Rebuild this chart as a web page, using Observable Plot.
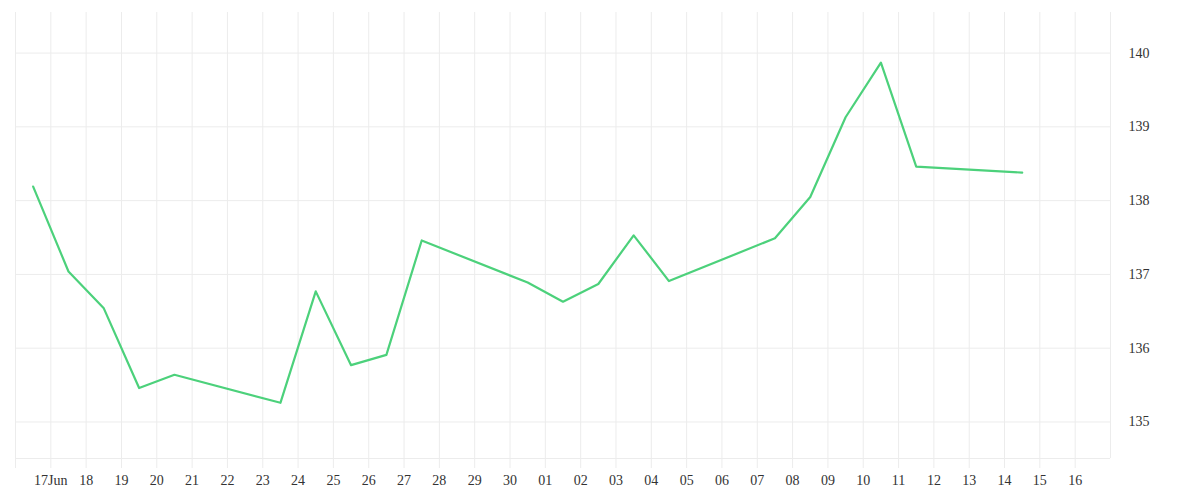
<!DOCTYPE html>
<html>
<head>
<meta charset="utf-8">
<script src="https://cdn.jsdelivr.net/npm/d3@7"></script>
<script src="https://cdn.jsdelivr.net/npm/@observablehq/plot@0.6"></script>
<style>
  html, body { margin: 0; padding: 0; background: #fff; }
  #chart svg { display: block; }
</style>
</head>
<body>
<div id="chart"></div>
<script>
// Trading days (close values)
const dates = ["2025-06-16","2025-06-17","2025-06-18","2025-06-19","2025-06-20",
  "2025-06-23","2025-06-24","2025-06-25","2025-06-26","2025-06-27",
  "2025-06-30","2025-07-01","2025-07-02","2025-07-03","2025-07-04",
  "2025-07-07","2025-07-08","2025-07-09","2025-07-10","2025-07-11",
  "2025-07-14"];
const values = [138.19, 137.04, 136.54, 135.46, 135.64,
  135.26, 136.77, 135.77, 135.91, 137.46,
  136.89, 136.63, 136.87, 137.53, 136.91,
  137.49, 138.05, 139.13, 139.87, 138.46,
  138.38];

// X ticks (day boundaries) and their labels
const tickDates = ["2025-06-16","2025-06-17","2025-06-18","2025-06-19","2025-06-20","2025-06-21",
  "2025-06-22","2025-06-23","2025-06-24","2025-06-25","2025-06-26","2025-06-27","2025-06-28",
  "2025-06-29","2025-06-30","2025-07-01","2025-07-02","2025-07-03","2025-07-04","2025-07-05",
  "2025-07-06","2025-07-07","2025-07-08","2025-07-09","2025-07-10","2025-07-11","2025-07-12",
  "2025-07-13","2025-07-14","2025-07-15","2025-07-16"];
const tickLabels = ["","17Jun","18","19","20","21","22","23","24","25","26","27","28","29","30",
  "01","02","03","04","05","06","07","08","09","10","11","12","13","14","15","16"];
const xDomainDates = ["2025-06-16","2025-07-17"];

const yTicks = [135, 136, 137, 138, 139, 140];
const yDomain = [134.505, 140.55];

const parse = s => new Date(s + "T00:00:00Z");
const HALF_DAY = 12 * 3600 * 1000;
const data = dates.map((d, i) => ({date: new Date(parse(d).getTime() + HALF_DAY), value: values[i]}));
const ticks = tickDates.map(parse);
const labelMap = new Map(ticks.map((t, i) => [t.getTime(), tickLabels[i]]));
const xDomain = xDomainDates.map(parse);

const grid = "#ececec";

const chart = Plot.plot({
  width: 1200,
  height: 500,
  marginLeft: 15,
  marginRight: 90,
  marginTop: 12,
  marginBottom: 42,
  style: {fontFamily: "'Liberation Serif', serif", fontSize: "14px", color: "#333", background: "#fff"},
  x: {type: "utc", domain: xDomain},
  y: {domain: yDomain},
  marks: [
    Plot.gridX(ticks, {stroke: grid, strokeOpacity: 1}),
    Plot.gridY(yTicks, {stroke: grid, strokeOpacity: 1}),
    Plot.ruleY([yDomain[0]], {stroke: grid, strokeOpacity: 1}),
    Plot.ruleX([xDomain[1]], {stroke: grid, strokeOpacity: 1}),
    Plot.axisX({ticks, tickSize: 10, tickPadding: 7, stroke: grid, strokeOpacity: 1,
      tickFormat: d => labelMap.get(d.getTime()) ?? "", label: null}),
    Plot.axisY({anchor: "right", ticks: yTicks, tickSize: 0, tickPadding: 18, tickFormat: d3.format("d"), label: null}),
    Plot.lineY(data, {x: "date", y: "value", stroke: "#4cd17b", strokeWidth: 2.2})
  ]
});
document.getElementById("chart").appendChild(chart);
</script>
</body>
</html>
